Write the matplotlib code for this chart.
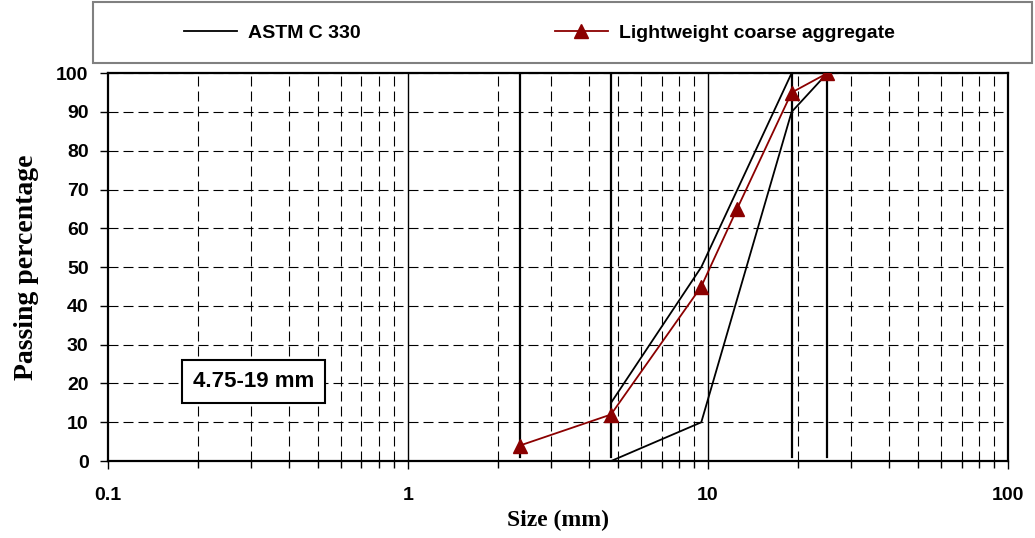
import numpy as np
import matplotlib.pyplot as plt
from matplotlib.patches import Rectangle
from matplotlib.ticker import LogLocator, NullFormatter

# sieve sizes (mm) used as vertical reference lines
sieves = [2.36, 4.75, 19.0, 25.0]

# ASTM C 330 grading limits
astm_upper_x = [4.75, 9.5, 19.0, 25.0]
astm_upper_y = [15, 50, 100, 100]
astm_lower_x = [4.75, 9.5, 19.0, 25.0]
astm_lower_y = [0, 10, 90, 100]

# lightweight coarse aggregate grading
lwa_x = [2.36, 4.75, 9.5, 12.5, 19.0, 25.0]
lwa_y = [4, 12, 45, 65, 95, 100]

plt.rcParams['font.family'] = ['Liberation Sans', 'DejaVu Sans']
plt.rcParams['font.weight'] = 'bold'

fig = plt.figure(figsize=(10.35, 5.38), dpi=100)
ax = fig.add_axes([0.1043, 0.143, 0.8696, 0.721])

dark_red = '#8b0000'
dash = (0, (9, 4.5))

for s in sieves:
    ax.plot([s, s], [1, 100], color='black', lw=1.6, zorder=3)

ax.plot(astm_upper_x, astm_upper_y, color='black', lw=1.3, zorder=4, label='ASTM C 330')
ax.plot(astm_lower_x, astm_lower_y, color='black', lw=1.3, zorder=4)
ax.plot(lwa_x, lwa_y, color=dark_red, lw=1.3, marker='^', ms=10, zorder=5,
        label='Lightweight coarse aggregate')

ax.set_xscale('log')
ax.set_xlim(0.1, 100)
ax.set_ylim(0, 100)
ax.set_yticks(np.arange(0, 101, 10))
ax.set_xticks([0.1, 1, 10, 100])
ax.set_xticklabels(['0.1', '1', '10', '100'])
ax.xaxis.set_minor_locator(LogLocator(base=10, subs=np.arange(2, 10)))
ax.xaxis.set_minor_formatter(NullFormatter())

# grid: solid decades, dashed minors and horizontals
for d in [1, 10]:
    ax.axvline(d, color='black', lw=1.0, zorder=1)
ax.grid(True, which='minor', axis='x', color='black', ls=dash, lw=0.8)
ax.grid(True, which='major', axis='y', color='black', ls=dash, lw=0.8)

ax.tick_params(axis='both', which='major', direction='out', length=6, width=1,
               labelsize=14, pad=8)
ax.tick_params(axis='x', which='major', pad=13)
ax.tick_params(axis='x', which='minor', direction='out', length=5, width=1)
for sp in ax.spines.values():
    sp.set_linewidth(1.6)

ax.set_xlabel('Size (mm)', family='Liberation Serif', fontsize=17, fontweight='bold', labelpad=4)
ax.set_ylabel('Passing percentage', family='Liberation Serif', fontsize=20, fontweight='bold',
              labelpad=12)

ax.text(0.305, 20.5, '4.75-19 mm', fontsize=16, fontweight='bold', ha='center', va='center',
        bbox=dict(boxstyle='square,pad=0.5', fc='white', ec='black', lw=1.5), zorder=6)

# legend box across the top
fig.patches.append(Rectangle((93 / 1035, 1 - 63 / 538), 939 / 1035, 61 / 538,
                             transform=fig.transFigure, fc='white', ec='#808080', lw=1.5))
fig.legend(loc='center left', bbox_to_anchor=(184 / 1035, 1 - 33 / 538), ncol=2, frameon=False,
           fontsize=14, handlelength=2.7, handletextpad=0.6, columnspacing=10,
           borderpad=0, borderaxespad=0)

fig.savefig('out.png', dpi=100)
